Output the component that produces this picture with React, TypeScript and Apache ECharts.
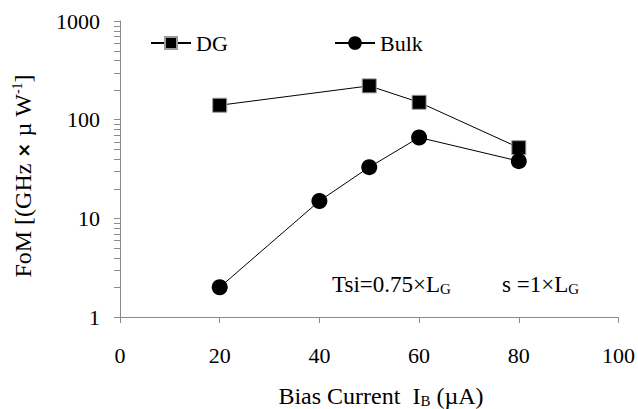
import React, { useEffect, useRef } from "react";
import * as echarts from "echarts";

const dgX = [20, 50, 60, 80];
const dgY = [140, 220, 150, 52];
const bulkX = [20, 40, 50, 60, 80];
const bulkY = [2, 15, 33, 66, 38];
const xTicks = [0, 20, 40, 60, 80, 100];
const yMinorValues = [2, 3, 4, 5, 6, 7, 8, 9, 20, 30, 40, 50, 60, 70, 80, 90, 200, 300, 400, 500, 600, 700, 800, 900];

const FONT = "Liberation Serif";
const AXIS_COLOR = "#8a8a8a";

const textGraphics = [
  {
    type: "text",
    x: 381,
    y: 396,
    style: {
      text: "{n|Bias Current\u00a0\u00a0I}{s|B}{n|\u00a0(µA)}",
      align: "center",
      verticalAlign: "middle",
      fill: "#000",
      rich: {
        n: { fontFamily: FONT, fontSize: 24, fill: "#000", color: "#000" },
        s: { fontFamily: FONT, fontSize: 15, fill: "#000", color: "#000", padding: [9, 0, 0, 0] },
      },
    },
  },
  {
    type: "text",
    x: 23,
    y: 176,
    rotation: Math.PI / 2,
    style: {
      text: "{n|FoM [(GHz\u00a0}{b|×}{n|\u00a0µ\u00a0W}{p|-1}{n|]}",
      align: "center",
      verticalAlign: "middle",
      fill: "#000",
      rich: {
        n: { fontFamily: FONT, fontSize: 24, fill: "#000", color: "#000" },
        b: { fontFamily: "DejaVu Sans", fontWeight: "bold", fontSize: 18, fill: "#000", color: "#000" },
        p: { fontFamily: FONT, fontSize: 14, fill: "#000", color: "#000", padding: [0, 0, 12, 0] },
      },
    },
  },
  {
    type: "text",
    x: 332,
    y: 284,
    style: {
      text: "{n|Tsi=0.75×L}{s|G}",
      verticalAlign: "middle",
      fill: "#000",
      rich: {
        n: { fontFamily: FONT, fontSize: 23, fill: "#000", color: "#000" },
        s: { fontFamily: FONT, fontSize: 15, fill: "#000", color: "#000", padding: [9, 0, 0, 0] },
      },
    },
  },
  {
    type: "text",
    x: 502,
    y: 284,
    style: {
      text: "{n|s =1×L}{s|G}",
      verticalAlign: "middle",
      fill: "#000",
      rich: {
        n: { fontFamily: FONT, fontSize: 23, fill: "#000", color: "#000" },
        s: { fontFamily: FONT, fontSize: 15, fill: "#000", color: "#000", padding: [9, 0, 0, 0] },
      },
    },
  },
];

export default function App() {
  const ref = useRef<HTMLDivElement>(null);
  useEffect(() => {
    if (!ref.current) return;
    const chart = echarts.init(ref.current, undefined, { renderer: "svg" });
    chart.setOption({
      animation: false,
      backgroundColor: "#ffffff",
      textStyle: { fontFamily: FONT },
      grid: { left: 120, right: 19, top: 21, bottom: 92, containLabel: false },
      legend: [
        {
          data: ["DG"],
          left: 145,
          top: 27,
          itemWidth: 40,
          itemHeight: 15,
          itemGap: 4,
          textStyle: { fontFamily: FONT, fontSize: 22, color: "#000" },
        },
        {
          data: ["Bulk"],
          left: 329,
          top: 27,
          itemWidth: 40,
          itemHeight: 17,
          itemGap: 4,
          textStyle: { fontFamily: FONT, fontSize: 22, color: "#000" },
        },
      ],
      xAxis: {
        type: "value",
        min: 0,
        max: 100,
        interval: 20,
        axisLine: { lineStyle: { color: AXIS_COLOR, width: 1 } },
        axisTick: { show: true, length: 6, inside: false, lineStyle: { color: AXIS_COLOR } },
        splitLine: { show: false },
        axisLabel: {
          fontFamily: FONT,
          fontSize: 22,
          color: "#000",
          margin: 27,
          formatter: (v: number) => (xTicks.includes(v) ? String(v) : ""),
        },
      },
      yAxis: {
        type: "log",
        logBase: 10,
        min: 1,
        max: 1000,
        axisLine: { show: true, onZero: false, lineStyle: { color: AXIS_COLOR, width: 1 } },
        axisTick: { show: true, length: 6, inside: false, lineStyle: { color: AXIS_COLOR } },
        splitLine: { show: false },
        axisLabel: {
          fontFamily: FONT,
          fontSize: 22,
          color: "#000",
          margin: 20,
          formatter: (v: number) => String(Math.round(v)),
        },
      },
      series: [
        {
          name: "DG",
          type: "line",
          data: dgX.map((x, i) => [x, dgY[i]]),
          symbol: "rect",
          symbolSize: 14,
          lineStyle: { color: "#000", width: 1 },
          itemStyle: { color: "#000", borderColor: "#9a9a9a", borderWidth: 1 },
          z: 2,
        },
        {
          name: "Bulk",
          type: "line",
          data: bulkX.map((x, i) => [x, bulkY[i]]),
          symbol: "circle",
          symbolSize: 16,
          lineStyle: { color: "#000", width: 1 },
          itemStyle: { color: "#000" },
          z: 3,
        },
      ],
      graphic: textGraphics,
    });

    const x0 = chart.convertToPixel({ xAxisIndex: 0 }, 0) as number;
    const ax = Math.round(x0);
    const tickGraphics = yMinorValues.map((v) => {
      const py = chart.convertToPixel({ yAxisIndex: 0 }, v) as number;
      const y = Math.round(py) + 0.5;
      return {
        type: "line",
        silent: true,
        z: 10,
        shape: { x1: ax - 6, y1: y, x2: ax, y2: y },
        style: { stroke: AXIS_COLOR, lineWidth: 1 },
      };
    });
    chart.setOption({ graphic: [...textGraphics, ...tickGraphics] });

    return () => chart.dispose();
  }, []);
  return <div ref={ref} style={{ width: 638, height: 409, position: "absolute", left: 0, top: 0 }} />;
}
